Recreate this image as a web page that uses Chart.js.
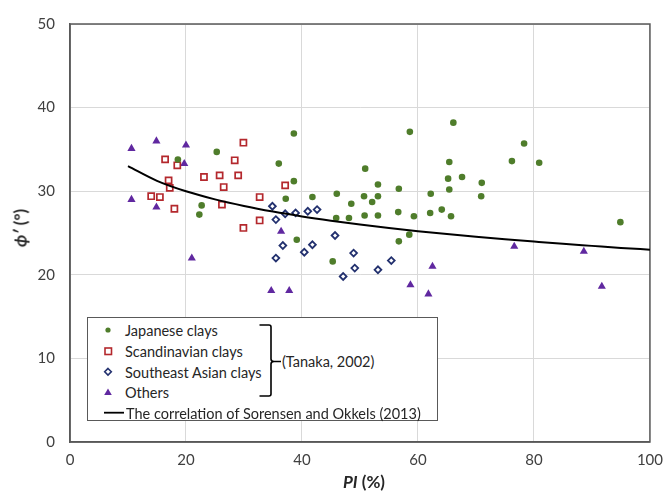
<!DOCTYPE html>
<html>
<head>
<meta charset="utf-8">
<script src="https://cdn.jsdelivr.net/npm/chart.js@4.4.1/dist/chart.umd.min.js"></script>
<style>
  html, body { margin: 0; padding: 0; background: #fff; }
  #wrap { position: relative; width: 672px; height: 495px; font-family: Lato, "Open Sans", sans-serif; }
  canvas { position: absolute; left: 0; top: 0; }
  .ov { position: absolute; white-space: nowrap; color: #262626; }
  #xtitle { left: 364px; top: 481px; transform: translate(-50%, -50%); font-size: 17px; font-weight: 700; }
  #ytitle { left: 20px; top: 228px; transform: translate(-50%, -50%) rotate(-90deg); font-size: 17px; font-weight: 700; }
  #legend { position: absolute; left: 87px; top: 317px; width: 351px; height: 104px; border: 1px solid #595959; background: #fff; box-sizing: border-box; }
  #legend svg { position: absolute; left: 0; top: 0; }
  .lt { position: absolute; font-size: 14.5px; color: #262626; white-space: nowrap; transform: translateY(-50%); }
</style>
</head>
<body>
<div id="wrap">
  <canvas id="c" width="672" height="495"></canvas>
  <div id="xtitle" class="ov"><i>PI</i> (%)</div>
  <div id="ytitle" class="ov"><i>ϕ′</i> (°)</div>
  <div id="legend">
    <svg width="351" height="104">
      <circle cx="20" cy="12" r="2.6" fill="#4F7D2B"/>
      <rect x="17" y="30" width="6.5" height="6.5" fill="#fff" stroke="#B4282D" stroke-width="1.6"/>
      <polygon points="20,50.5 23.3,53.8 20,57.1 16.7,53.8" fill="#fff" stroke="#22306E" stroke-width="1.6"/>
      <polygon points="20,70.5 23.8,77 16.2,77" fill="#6028A0"/>
      <line x1="16" y1="94.7" x2="36" y2="94.7" stroke="#000" stroke-width="1.8"/>
      <path d="M171.5,7 L181,7 Q183,7 183,9 L183,41 Q183,43.5 186,43.5 L193,43.5 M186,43.5 Q183,43.5 183,46 L183,76 Q183,78 181,78 L171.5,78" fill="none" stroke="#000" stroke-width="1.6"/>
    </svg>
    <span class="lt" style="left:37px; top:12px;">Japanese clays</span>
    <span class="lt" style="left:37px; top:33px;">Scandinavian clays</span>
    <span class="lt" style="left:37px; top:54px;">Southeast Asian clays</span>
    <span class="lt" style="left:37px; top:74px;">Others</span>
    <span class="lt" style="left:38px; top:95px;">The correlation of Sorensen and Okkels (2013)</span>
    <span class="lt" style="left:194px; top:43px;">(Tanaka, 2002)</span>
  </div>
</div>
<script>
// ---- Data ----
const xTicks = [0, 20, 40, 60, 80, 100];
const yTicks = [0, 10, 20, 30, 40, 50];

const japanesePI  = [18.6, 25.3, 36.0, 38.6, 22.7, 22.3, 37.2, 38.6, 39.1, 41.8, 46.0, 45.9, 45.3, 48.5, 48.1, 50.9, 50.7, 52.1, 53.1, 53.1, 50.8, 53.1, 56.7, 56.6, 56.7, 58.5, 58.6, 59.3, 62.2, 62.1, 64.1, 65.4, 65.2, 67.6, 65.4, 65.7, 66.1, 78.3, 76.2, 80.9, 71.0, 70.9, 94.9];
const japanesePhi = [33.8, 34.7, 33.3, 36.9, 28.3, 27.2, 29.1, 31.2, 24.2, 29.3, 29.7, 26.8, 21.6, 28.5, 26.8, 32.7, 29.4, 28.7, 30.8, 29.4, 27.1, 27.1, 30.3, 27.5, 24.0, 24.8, 37.1, 27.0, 29.7, 27.4, 27.8, 33.5, 31.5, 31.7, 30.2, 27.0, 38.2, 35.7, 33.6, 33.4, 31.0, 29.4, 26.3];

const scandinavianPI  = [16.4, 18.5, 29.9, 28.4, 17.0, 17.2, 23.1, 25.8, 26.5, 29.0, 14.0, 15.5, 18.0, 32.7, 26.2, 32.7, 29.9, 37.1];
const scandinavianPhi = [33.8, 33.1, 35.8, 33.7, 31.3, 30.4, 31.7, 31.9, 30.5, 31.9, 29.4, 29.3, 27.9, 29.3, 28.4, 26.5, 25.6, 30.7];

const seAsianPI  = [34.9, 37.1, 38.9, 41.0, 42.6, 35.5, 36.7, 35.5, 40.4, 41.8, 45.7, 48.9, 47.1, 49.1, 53.1, 55.4];
const seAsianPhi = [28.2, 27.3, 27.4, 27.6, 27.8, 26.6, 23.5, 22.0, 22.7, 23.6, 24.7, 22.6, 19.8, 20.8, 20.6, 21.7];

const othersPI  = [10.6, 14.9, 20.0, 19.7, 10.6, 14.9, 21.0, 34.7, 37.8, 36.4, 58.7, 62.5, 61.8, 76.6, 88.6, 91.7];
const othersPhi = [35.1, 36.0, 35.5, 33.3, 29.0, 28.1, 22.0, 18.1, 18.1, 25.2, 18.8, 21.0, 17.7, 23.4, 22.8, 18.6];

// Correlation curve of Sorensen and Okkels (2013)
const curvePI  = [10, 15, 20, 25, 30, 35, 40, 45, 50, 55, 60, 65, 70, 75, 80, 85, 90, 95, 100];
const curvePhi = [33.0, 31.24, 29.99, 29.02, 28.23, 27.56, 26.98, 26.47, 26.01, 25.60, 25.22, 24.87, 24.55, 24.25, 23.97, 23.70, 23.46, 23.22, 23.0];

const seriesNames = ['Japanese clays', 'Scandinavian clays', 'Southeast Asian clays', 'Others', 'The correlation of Sorensen and Okkels (2013)'];

function pts(xs, ys) { return xs.map((x, i) => ({ x: x, y: ys[i] })); }

const frame = {
  id: 'frame',
  beforeDatasetsDraw(chart) {
    const a = chart.chartArea, ctx = chart.ctx;
    ctx.save();
    ctx.strokeStyle = '#595959';
    ctx.lineWidth = 1.5;
    ctx.strokeRect(a.left, a.top, a.right - a.left, a.bottom - a.top);
    ctx.restore();
  }
};

new Chart(document.getElementById('c'), {
  type: 'scatter',
  data: {
    datasets: [
      { label: seriesNames[4], data: pts(curvePI, curvePhi), showLine: true, borderColor: '#000', borderWidth: 2,
        pointRadius: 0, cubicInterpolationMode: 'monotone', fill: false, order: 0 },
      { label: seriesNames[0], data: pts(japanesePI, japanesePhi), pointStyle: 'circle', pointRadius: 3.3,
        backgroundColor: '#4F7D2B', borderColor: '#4F7D2B', borderWidth: 0, order: 1 },
      { label: seriesNames[1], data: pts(scandinavianPI, scandinavianPhi), pointStyle: 'rect', pointRadius: 4.3,
        backgroundColor: '#fff', borderColor: '#B4282D', borderWidth: 1.7, order: 1 },
      { label: seriesNames[2], data: pts(seAsianPI, seAsianPhi), pointStyle: 'rectRot', pointRadius: 3.4,
        backgroundColor: '#fff', borderColor: '#22306E', borderWidth: 1.8, order: 1 },
      { label: seriesNames[3], data: pts(othersPI, othersPhi), pointStyle: 'triangle', pointRadius: 4.7,
        backgroundColor: '#6028A0', borderColor: '#6028A0', borderWidth: 0, order: 1 }
    ]
  },
  options: {
    responsive: false,
    animation: false,
    layout: { padding: { left: 0, top: 13, right: 13, bottom: 0 } },
    plugins: { legend: { display: false }, tooltip: { enabled: false } },
    scales: {
      x: {
        type: 'linear', min: 0, max: 100,
        afterFit(s) { s.height = 53; },
        afterBuildTicks(s) { s.ticks = xTicks.map(v => ({ value: v })); },
        grid: { color: '#D9D9D9', lineWidth: 1, drawTicks: false },
        border: { display: true, color: '#595959', width: 1.5 },
        ticks: { padding: 9, color: '#404040', font: { family: 'Lato', size: 15 } },
        title: { display: false, text: 'PI (%)' }
      },
      y: {
        type: 'linear', min: 0, max: 50,
        afterFit(s) { s.width = 70; },
        afterBuildTicks(s) { s.ticks = yTicks.map(v => ({ value: v })); },
        grid: { color: '#D9D9D9', lineWidth: 1, drawTicks: false },
        border: { display: true, color: '#595959', width: 1.5 },
        ticks: { padding: 15, color: '#404040', font: { family: 'Lato', size: 15 } },
        title: { display: false, text: 'ϕ′ (°)' }
      }
    }
  },
  plugins: [frame]
});
</script>
</body>
</html>
